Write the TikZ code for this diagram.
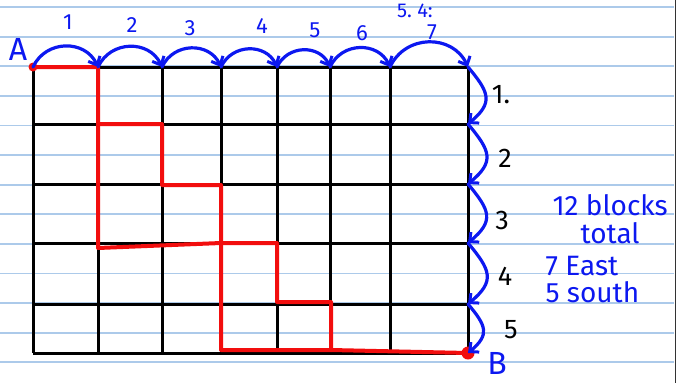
\documentclass[tikz,border=0pt]{standalone}
\usepackage{fontspec}
\setmainfont{Fira Sans}
\usetikzlibrary{arrows.meta,positioning,calc}
\definecolor{toll}{RGB}{12,24,240}
\definecolor{papir}{RGB}{172,202,234}
\definecolor{piros}{RGB}{242,14,14}
\tikzset{
  vonal/.style={line width=1.8pt,papir},
  racs/.style={line width=3pt,black},
  ut/.style={line width=4pt,piros,line join=round,line cap=round},
  ugras/.style={line width=3.2pt,toll,line cap=round,
    -{Straight Barb[length=7pt,width=13pt,line width=3pt]}},
  potty/.style={circle,fill=piros,inner sep=0pt,minimum size=9pt},
  szam/.style={toll,font=\fontsize{22}{22}\selectfont},
  sorsz/.style={black,font=\fontsize{27}{27}\selectfont},
  iras/.style={toll,anchor=base west,font=\fontsize{28}{28}\selectfont},
  betu/.style={toll,inner sep=0pt,font=\fontsize{32}{32}\selectfont},
}

\begin{document}
\begin{tikzpicture}[x=1pt,y=-1pt]
  \useasboundingbox (0,0) rectangle (676,383);
  \foreach \i in {0,...,12}
    \draw[vonal] (0,{7+29.6*\i}) -- (674,{7+29.6*\i});
  \draw[line width=2pt,black!80] (675.5,0) -- (675.5,383);

  \foreach \y in {67,124,184,243,304,353}
    \draw[racs] (33,\y) -- (468,\y);
  \foreach \x in {33,98,162,221,277,330,390,468}
    \draw[racs] (\x,67) -- (\x,353);

  \foreach \x [count=\i from 0] in {33,98,162,221,277,330,390,468}
    \coordinate (f\i) at (\x,67);
  \foreach \y [count=\i from 0] in {67,124,184,243,304,353}
    \coordinate (j\i) at (468,\y);

  \draw[ut] (f0) -- (f1) -- (98,124) -- (162,124) -- (162,185) -- (221,185)
    -- (221,243) -- (277,243) -- (277,302) -- (331,302) -- (331,350) -- (j5);
  \draw[ut] (98,124) -- (98,248) -- (221,243) -- (221,350) -- (331,350);
  \node[potty] (a) at (f0) {};
  \node[potty,minimum width=13pt] (b) at (j5) {};

  \node[betu] (betuA) at (18,49) {A};
  \node[betu] (betuB) at (497,363) {B};

  \foreach \i [evaluate=\i as \k using int(\i-1)] in {1,...,7}
    \draw[ugras] (f\k) to[out=65,in=115,looseness=1.2] (f\i);
  \foreach \x/\y/\n in {68/22/1,132/25/2,190/28/3,262/26/4,315/30/5,362/33/6,432/32/7}
    \node[szam] (sz\n) at (\x,\y) {\n};
  \node[szam,anchor=base,font=\fontsize{20}{20}\selectfont] (fent) at (415,17) {5.\ 4:};

  \foreach \i [evaluate=\i as \k using int(\i-1)] in {1,...,5}
    \draw[ugras] (j\k) to[out=-50,in=40,looseness=1.5] (j\i);
  \foreach \x/\y/\n in {501/95/1.,505/158/2,502/220/3,505/276/4,511/330/5}
    \node[sorsz] (o\n) at (\x,\y) {\n};

  \node[iras] (blokk) at (549,215) {12 blocks};
  \node[iras] (ossz) at (577,243) {total};
  \node[iras] (kelet) at (542,275) {7 East};
  \node[iras] (del) at (542,302) {5 south};
\end{tikzpicture}
\end{document}
